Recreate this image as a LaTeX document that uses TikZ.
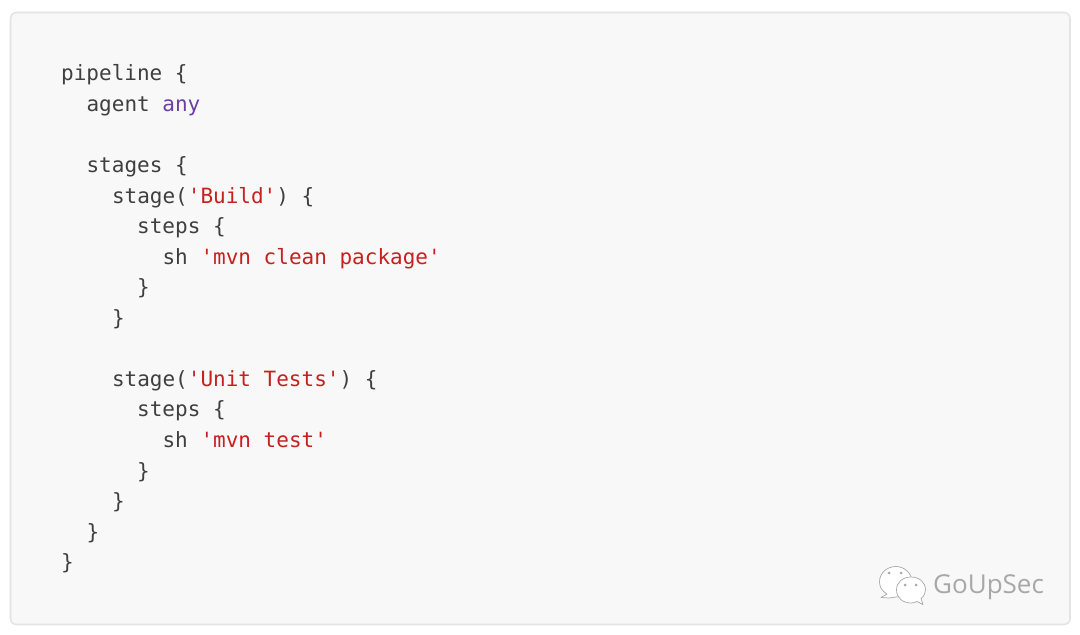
\documentclass[tikz,border=0pt]{standalone}
\usepackage{fontspec}
\setmonofont{DejaVu Sans Mono}
\setsansfont{Open Sans}
\definecolor{codegray}{HTML}{3F3F3F}
\definecolor{codered}{HTML}{C5211F}
\definecolor{codepurple}{HTML}{6B3FA8}
\definecolor{panelfill}{HTML}{F8F8F8}
\definecolor{panelline}{HTML}{E4E4E4}
\definecolor{logoline}{HTML}{A8A8A8}
\newcommand{\str}[1]{\textcolor{codered}{#1}}

\begin{document}
\begin{tikzpicture}[x=1pt,y=-1pt]
    \tikzstyle{code}=[inner sep=0pt,anchor=base west,text=codegray,font=\ttfamily\fontsize{21}{21}\selectfont]
    \tikzstyle{bubble}=[draw=logoline,fill=white,line width=0.7pt,line join=round]
    \useasboundingbox (0,0) rectangle (1080,635);
    \fill[white] (0,0) rectangle (1080,635);
    \draw[panelline,fill=panelfill,line width=1.6pt,rounded corners=6pt] (10.5,12.5) rectangle (1070,624.5);
    \node[code] (l1) at (61,80.7) {pipeline \{};
    \node[code] (l2) at (86.4,111.3) {agent \textcolor{codepurple}{any}};
    \node[code] (l3) at (86.4,172.4) {stages \{};
    \node[code] (l4) at (111.8,203) {stage(\str{'Build'}) \{};
    \node[code] (l5) at (137,233.5) {steps \{};
    \node[code] (l6) at (162.4,264.1) {sh \str{'mvn clean package'}};
    \node[code] (l7) at (137,294.7) {\}};
    \node[code] (l8) at (111.8,325.2) {\}};
    \node[code] (l9) at (111.8,386.3) {stage(\str{'Unit Tests'}) \{};
    \node[code] (l10) at (137,416.9) {steps \{};
    \node[code] (l11) at (162.4,447.5) {sh \str{'mvn test'}};
    \node[code] (l12) at (137,478) {\}};
    \node[code] (l13) at (111.8,508.6) {\}};
    \node[code] (l14) at (86.4,539.2) {\}};
    \node[code] (l15) at (61,569.7) {\}};
    % logo
    \draw[bubble] (887,594) -- (881,597.5) -- (889,598) to[out=20,in=200] (896,597)
      .. controls (908,597) and (912,589) .. (912,582)
      .. controls (912,573) and (904,566.5) .. (896,566.5)
      .. controls (887,566.5) and (879.5,573) .. (879.5,582)
      .. controls (879.5,587) and (882,591) .. (887,594) -- cycle;
    \draw[bubble] (917,601.5) -- (923,604.5) -- (921,598.5)
      .. controls (924,596) and (925.5,593) .. (925.5,590)
      .. controls (925.5,582) and (919,577) .. (911,577)
      .. controls (903,577) and (896.5,582) .. (896.5,590)
      .. controls (896.5,598) and (903,603) .. (911,603)
      .. controls (913,603) and (915,602.5) .. (917,601.5) -- cycle;
    \foreach \eyex/\eyey in {889/573,901/573,905/585,916/585}
      \fill[logoline] (\eyex,\eyey) circle (1.5pt);
    \node[inner sep=0pt,anchor=base west,text=logoline,font=\sffamily\fontsize{26}{26}\selectfont] (logotext) at (933,593) {GoUpSec};
\end{tikzpicture}
\end{document}
